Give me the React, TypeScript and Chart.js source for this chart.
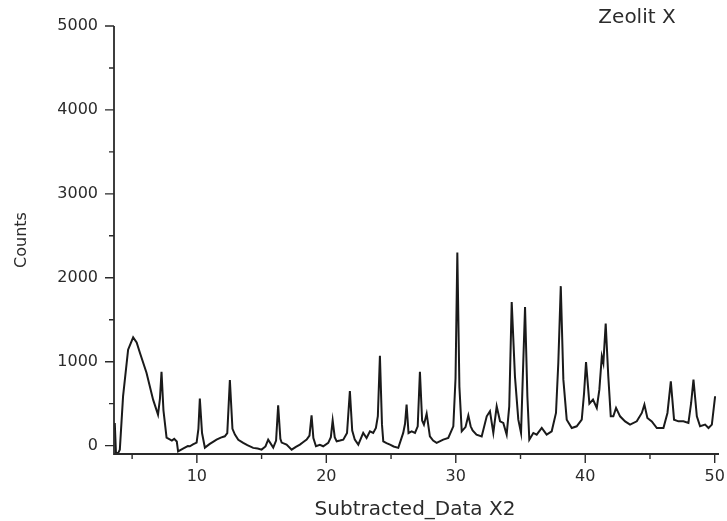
import React, { useEffect, useRef } from "react";
import { Chart, registerables } from "chart.js";

Chart.register(...registerables);

// 2-theta positions (degrees)
const twoTheta = [
  3.66, 3.75, 3.9, 4.05, 4.3, 4.69, 5.08, 5.35, 5.6, 6.11, 6.62, 7.0, 7.15, 7.27, 7.42, 7.66,
  8.07, 8.25, 8.45, 8.55, 9.0, 9.3, 9.46, 9.7, 9.98, 10.12, 10.23, 10.4, 10.62, 11.0, 11.25,
  11.52, 11.85, 12.16, 12.35, 12.55, 12.75, 12.94, 13.2, 13.58, 13.9, 14.35, 14.7, 15.0, 15.3,
  15.51, 15.9, 16.12, 16.28, 16.45, 16.55, 16.93, 17.32, 17.65, 17.96, 18.2, 18.48, 18.7,
  18.86, 19.0, 19.2, 19.5, 19.76, 20.15, 20.35, 20.49, 20.65, 20.8, 21.05, 21.31, 21.6,
  21.82, 22.0, 22.2, 22.47, 22.85, 23.11, 23.37, 23.62, 23.83, 23.98, 24.14, 24.3, 24.4,
  24.65, 24.92, 25.2, 25.56, 25.94, 26.08, 26.2, 26.35, 26.59, 26.85, 27.06, 27.23, 27.4,
  27.54, 27.75, 28.0, 28.25, 28.52, 29.03, 29.42, 29.81, 29.98, 30.12, 30.28, 30.46, 30.75,
  30.97, 31.15, 31.3, 31.6, 32.0, 32.39, 32.64, 32.9, 33.16, 33.42, 33.67, 33.93, 34.13,
  34.32, 34.57, 34.83, 35.04, 35.17, 35.35, 35.53, 35.68, 35.99, 36.25, 36.64, 37.02, 37.41,
  37.74, 37.92, 38.11, 38.31, 38.57, 38.96, 39.34, 39.73, 39.91, 40.06, 40.32, 40.6, 40.89,
  41.09, 41.28, 41.4, 41.58, 41.78, 41.97, 42.17, 42.38, 42.69, 43.08, 43.46, 43.98, 44.37,
  44.57, 44.8, 45.14, 45.53, 46.04, 46.35, 46.61, 46.86, 47.2, 47.58, 47.97, 48.18, 48.36,
  48.62, 48.87, 49.26, 49.52, 49.78, 50.03,
];

// Counts
const counts = [
  270, -80, -95, -48, 587, 1143, 1290, 1230, 1107, 869, 548, 369, 560, 880, 420, 95,
  60, 80, 48, -68, -30, -5, -8, 15, 36, 200, 560, 150, -24, 20, 45,
  71, 95, 111, 150, 780, 200, 131, 70, 32, 5, -27, -35, -48, -10,
  71, -24, 60, 480, 80, 36, 12, -48, -15, 12, 40, 71, 120,
  360, 90, -8, 10, -8, 32, 100, 300, 100, 51, 60, 71, 150,
  650, 180, 71, 12, 151, 91, 170, 151, 210, 350, 1070, 250, 51,
  30, 12, -10, -27, 151, 260, 490, 150, 170, 151, 230, 880, 300,
  250, 380, 111, 60, 32, 71, 91, 230, 800, 2300, 700, 170, 220,
  360, 230, 180, 130, 110, 349, 409, 151, 468, 290, 270, 131, 468,
  1710, 825, 309, 151, 786, 1650, 587, 71, 151, 131, 210, 131, 170,
  389, 988, 1900, 786, 309, 210, 230, 309, 627, 995, 500, 548, 449,
  667, 1063, 984, 1455, 826, 349, 349, 449, 349, 289, 250, 289, 389,
  488, 330, 289, 210, 210, 389, 766, 309, 289, 289, 270, 508, 786,
  349, 230, 250, 210, 250, 588,
];

const xTickValues = [10, 20, 30, 40, 50];
const xMinorValues = [5, 15, 25, 35, 45];
const yTickValues = [0, 1000, 2000, 3000, 4000, 5000];
const yMinorValues = [500, 1500, 2500, 3500, 4500];

const chartTitle = "Zeolit X";
const xTitle = "Subtracted_Data X2";
const yTitle = "Counts";

const LINE_COLOR = "#1a1a1a";
const AXIS_COLOR = "#2a2a2a";
const TEXT_COLOR = "#2b2b2b";
const FONT = '"DejaVu Sans", sans-serif';

export default function App() {
  const canvasRef = useRef<HTMLCanvasElement | null>(null);

  useEffect(() => {
    const canvas = canvasRef.current;
    if (!canvas) return;

    const axesPlugin = {
      id: "originAxes",
      afterDraw(chart: any) {
        const { ctx, chartArea, scales } = chart;
        const xs = scales.x;
        const ys = scales.y;
        const left = chartArea.left;
        const bottom = chartArea.bottom;
        ctx.save();
        ctx.strokeStyle = AXIS_COLOR;
        ctx.lineWidth = 1.8;
        ctx.beginPath();
        ctx.moveTo(left, ys.getPixelForValue(5000));
        ctx.lineTo(left, bottom);
        ctx.lineTo(chartArea.right + 3, bottom);
        ctx.stroke();

        ctx.lineWidth = 1.4;
        ctx.beginPath();
        for (const v of yTickValues) {
          const p = ys.getPixelForValue(v);
          ctx.moveTo(left - 9, p);
          ctx.lineTo(left, p);
        }
        for (const v of yMinorValues) {
          const p = ys.getPixelForValue(v);
          ctx.moveTo(left - 5, p);
          ctx.lineTo(left, p);
        }
        for (const v of xTickValues) {
          const p = xs.getPixelForValue(v);
          ctx.moveTo(p, bottom);
          ctx.lineTo(p, bottom + 9);
        }
        for (const v of xMinorValues) {
          const p = xs.getPixelForValue(v);
          ctx.moveTo(p, bottom);
          ctx.lineTo(p, bottom + 5);
        }
        ctx.stroke();

        ctx.fillStyle = TEXT_COLOR;
        ctx.font = `20px ${FONT}`;
        ctx.textAlign = "center";
        ctx.textBaseline = "middle";
        ctx.fillText(chartTitle, chartArea.right - 79, 18);
        ctx.restore();
      },
    };

    const chart = new Chart(canvas, {
      type: "line",
      data: {
        datasets: [
          {
            label: chartTitle,
            data: twoTheta.map((t, i) => ({ x: t, y: counts[i] })),
            borderColor: LINE_COLOR,
            borderWidth: 2,
            pointRadius: 0,
            tension: 0,
            fill: false,
          },
        ],
      },
      options: {
        responsive: false,
        animation: false,
        events: [],
        layout: { padding: { top: 26, right: 11, left: 0, bottom: 0 } },
        plugins: {
          legend: { display: false },
          tooltip: { enabled: false },
          title: { display: false },
        },
        scales: {
          x: {
            type: "linear",
            min: 3.6,
            max: 50.1,
            grid: { display: false, drawTicks: true, tickLength: 8 },
            border: { display: false },
            afterBuildTicks: (s: any) => {
              s.ticks = xTickValues.map((v) => ({ value: v }));
            },
            afterFit: (s: any) => {
              s.height = 67;
              s.paddingLeft = 0;
              s.paddingRight = 0;
            },
            ticks: {
              autoSkip: false,
              maxRotation: 0,
              padding: 7,
              color: TEXT_COLOR,
              font: { family: FONT, size: 16, lineHeight: 1 },
              callback: (v: any) => String(v),
            },
            title: {
              display: true,
              text: xTitle,
              color: TEXT_COLOR,
              font: { family: FONT, size: 20, lineHeight: 1 },
              padding: { top: 0, bottom: 1 },
            },
          },
          y: {
            type: "linear",
            min: -100,
            max: 5000,
            grid: { display: false, drawTicks: true, tickLength: 8 },
            border: { display: false },
            afterBuildTicks: (s: any) => {
              s.ticks = yTickValues.map((v) => ({ value: v }));
            },
            afterFit: (s: any) => {
              s.width = 114;
              s.paddingTop = 0;
              s.paddingBottom = 0;
            },
            ticks: {
              autoSkip: false,
              padding: 8,
              color: TEXT_COLOR,
              font: { family: FONT, size: 16, lineHeight: 1 },
              callback: (v: any) => String(v),
            },
            title: {
              display: true,
              text: yTitle,
              color: TEXT_COLOR,
              font: { family: FONT, size: 16, lineHeight: 1 },
              padding: { top: 14, bottom: 0 },
            },
          },
        },
      },
      plugins: [axesPlugin],
    });

    return () => chart.destroy();
  }, []);

  return (
    <div
      style={{
        position: "fixed",
        left: 0,
        top: 0,
        width: 727,
        height: 521,
        background: "#ffffff",
      }}
    >
      <canvas ref={canvasRef} width={727} height={521} style={{ display: "block", width: 727, height: 521 }} />
    </div>
  );
}
